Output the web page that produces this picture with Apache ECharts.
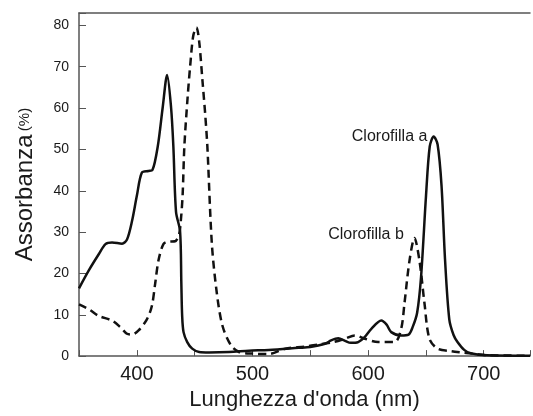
<!DOCTYPE html>
<html>
<head>
<meta charset="utf-8">
<script src="https://cdn.jsdelivr.net/npm/echarts@6/dist/echarts.min.js"></script>
<style>
html,body{margin:0;padding:0;background:#fff;}
#c{width:533px;height:416px;}
</style>
</head>
<body>
<div id="c"></div>
<script>
// Chlorophyll a (solid line)
const chlA_nm  = [350,358.6,367.2,372.9,378.6,387.2,391.5,395.8,400.1,404.4,410.1,413.5,418.1,422.4,426.2,429.6,431.6,433.9,437.4,438.5,439.2,440.4,443.6,447.9,453.9,462.5,479.7,496.9,514.1,539.9,550,562.8,568,574.2,580,585,591.4,597,602.8,611.4,616,620,628.6,635,638.5,642.4,645.8,650.1,653.3,656.7,660.1,663.5,666.5,670.2,673.9,677.3,683.1,688.7,703,740];
const chlA_abs = [16.4,20.8,24.7,27.1,27.5,27.2,28.2,32.6,38.9,44.4,44.8,45.0,50.7,60.2,68.0,60.2,50.7,34.9,30.2,17.6,9.8,5.8,3.4,1.8,1.0,0.9,1.0,1.3,1.5,2.0,2.2,3.0,3.8,4.3,3.7,3.2,3.4,4.6,6.6,8.6,7.6,5.8,5.0,5.2,7.0,10.5,19.2,38.9,50.7,53.1,51.2,41.2,23.5,8.9,5.1,3.4,1.5,0.7,0.2,0.1];

// Chlorophyll b (dashed line)
const chlB_nm  = [350,358.6,367.2,378.6,385.8,391.5,395.8,401.5,408.7,413,415.9,418.7,423,427.3,433.1,436.5,438,439.6,441.1,443.9,446.2,448.8,451.6,454,456.8,459.1,461,464.9,469.2,474,481.2,488.3,500,514,528.4,545,557,570,580,588.6,597.2,608.6,623,628.6,631.5,635.8,640.1,644.4,648.7,653,660.1,671.6,680,690,703,740];
const chlB_abs = [12.5,11.3,9.7,8.6,7.0,5.4,5.2,6.2,8.9,12.1,17.6,23.1,27.1,27.7,27.8,29.4,32.6,38.9,50.7,62.5,70.4,77.5,79.5,75.9,66.5,58.6,50.7,27.1,15.2,7.4,2.7,1.0,0.6,0.5,1.8,2.3,2.8,3.4,4.2,5.0,4.2,3.4,3.4,6.6,12.9,23.1,28.6,23.1,12.9,4.2,1.8,1.2,0.9,0.6,0.2,0.1];

const labelA = {text: 'Clorofilla a', nm: 618.6, abs: 53};
const labelB = {text: 'Clorofilla b', nm: 598.2, abs: 29.4};

const xName = "Lunghezza d'onda (nm)";
const yName = 'Assorbanza';
const yUnit = '(%)';

const pairs = (xs, ys) => xs.map((x, i) => [x, ys[i]]);

const FONT = '"Liberation Sans", Arial, Helvetica, sans-serif';
const AXIS_COLOR = '#555';
const TEXT_COLOR = '#1a1a1a';

const chart = echarts.init(document.getElementById('c'));
chart.setOption({
  animation: false,
  backgroundColor: '#fff',
  grid: {left: 79, top: 13, width: 454, height: 351.5, containLabel: false},
  xAxis: [{
    type: 'value', min: 350, max: 740, interval: 50,
    name: xName, nameLocation: 'middle', nameGap: 29,
    nameTextStyle: {fontFamily: FONT, fontSize: 22, color: TEXT_COLOR},
    axisLine: {show: true, lineStyle: {color: AXIS_COLOR, width: 1.5}},
    axisTick: {show: true, inside: true, length: 6, lineStyle: {color: AXIS_COLOR, width: 1}},
    axisLabel: {fontFamily: FONT, fontSize: 20, color: TEXT_COLOR, margin: 8,
      formatter: v => (v % 100 === 0 ? String(v) : '')},
    splitLine: {show: false}
  }, {
    type: 'value', position: 'top', min: 350, max: 740,
    axisLine: {show: true, lineStyle: {color: AXIS_COLOR, width: 1.5}},
    axisTick: {show: false}, axisLabel: {show: false}, splitLine: {show: false}
  }],
  yAxis: {
    type: 'value', min: 0, max: 83, interval: 10,
    name: '{a|' + yName + '} {b|' + yUnit + '}',
    nameLocation: 'middle', nameGap: 42, nameRotate: 90,
    nameTextStyle: {
      fontFamily: FONT, color: TEXT_COLOR,
      rich: {a: {fontFamily: FONT, fontSize: 24, color: TEXT_COLOR},
             b: {fontFamily: FONT, fontSize: 15, color: TEXT_COLOR}}
    },
    axisLine: {show: true, lineStyle: {color: AXIS_COLOR, width: 1.5}},
    axisTick: {show: true, inside: true, length: 7, lineStyle: {color: AXIS_COLOR, width: 1}},
    axisLabel: {fontFamily: FONT, fontSize: 14, color: TEXT_COLOR, margin: 10,
      formatter: v => (v % 10 === 0 ? String(v) : '')},
    splitLine: {show: false}
  },
  series: [{
    type: 'line', name: 'Clorofilla a', data: pairs(chlA_nm, chlA_abs),
    showSymbol: false, symbol: 'none', smooth: 0.3,
    lineStyle: {color: '#111', width: 2.5, type: 'solid'},
    markPoint: {
      symbol: 'circle', symbolSize: 0, silent: true,
      data: [{coord: [labelA.nm, labelA.abs], value: labelA.text}],
      label: {show: true, position: 'inside', formatter: p => p.value,
        fontFamily: FONT, fontSize: 16, color: TEXT_COLOR}
    }
  }, {
    type: 'line', name: 'Clorofilla b', data: pairs(chlB_nm, chlB_abs),
    showSymbol: false, symbol: 'none', smooth: 0.3,
    lineStyle: {color: '#111', width: 2.5, type: [8, 5]},
    markPoint: {
      symbol: 'circle', symbolSize: 0, silent: true,
      data: [{coord: [labelB.nm, labelB.abs], value: labelB.text}],
      label: {show: true, position: 'inside', formatter: p => p.value,
        fontFamily: FONT, fontSize: 16, color: TEXT_COLOR}
    }
  }]
});
</script>
</body>
</html>
